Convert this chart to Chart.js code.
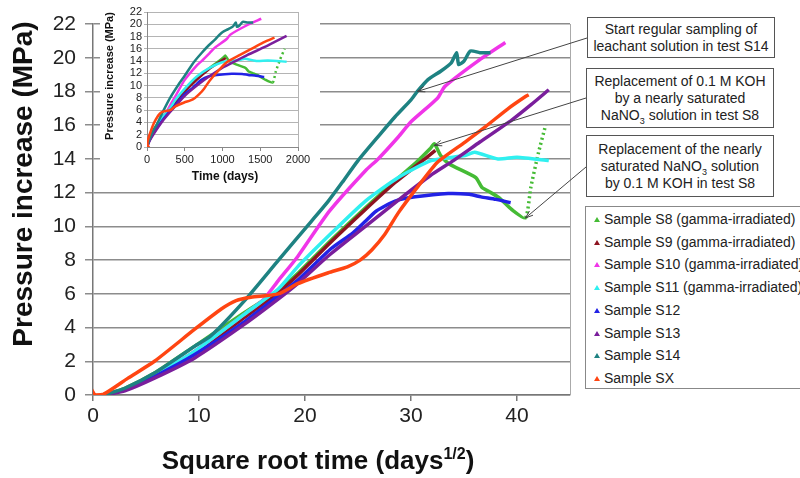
<!DOCTYPE html>
<html>
<head>
<meta charset="utf-8">
<script src="https://cdn.jsdelivr.net/npm/chart.js@4.4.1/dist/chart.umd.min.js"></script>
<style>
  body { margin: 0; width: 800px; height: 478px; overflow: hidden; background: #fff; position: relative;
         font-family: "Liberation Sans", Arial, sans-serif; color: #222; }
  #main { position: absolute; left: 0; top: 0; }
  #insetWrap { position: absolute; left: 100px; top: 0; width: 220px; height: 190px; background: #fff; }
  .note { position: absolute; border: 1.5px solid #555; background: #fff; box-sizing: border-box;
          text-align: center; font-size: 14px; line-height: 17px; display: flex; flex-direction: column;
          justify-content: center; }
  .note sub { font-size: 9px; line-height: 0; }
  #legend { position: absolute; left: 585px; top: 206px; width: 230px; height: 183px; background: #fff;
            border: 1.5px solid #888; box-sizing: border-box; font-size: 14px; }
  .item { position: absolute; left: 18px; height: 18px; line-height: 18px; white-space: nowrap; }
  .tri { position: absolute; left: 8px; width: 0; height: 0; border-left: 3px solid transparent;
         border-right: 3px solid transparent; }
</style>
</head>
<body>
<canvas id="main" width="800" height="478"></canvas>
<div id="insetWrap"><canvas id="inset" width="220" height="190"></canvas></div>

<div class="note" style="left:587px;top:17px;width:188px;height:41px">
  <div>Start regular sampling of</div><div>leachant solution in test S14</div>
</div>
<div class="note" style="left:586px;top:68px;width:188px;height:60px">
  <div>Replacement of 0.1 M KOH</div><div>by a nearly saturated</div><div>NaNO<sub>3</sub> solution in test S8</div>
</div>
<div class="note" style="left:586px;top:135px;width:188px;height:62px">
  <div>Replacement of the nearly</div><div>saturated NaNO<sub>3</sub> solution</div><div>by 0.1 M KOH in test S8</div>
</div>
<div id="legend"></div>

<script>
const FONT = '"Liberation Sans", Arial, sans-serif';

const seriesNames = [
  "Sample S8 (gamma-irradiated)",
  "Sample S9 (gamma-irradiated)",
  "Sample S10 (gamma-irradiated)",
  "Sample S11 (gamma-irradiated)",
  "Sample S12",
  "Sample S13",
  "Sample S14",
  "Sample SX",
];
const seriesColors = ["#45bb35", "#8e1420", "#f035e8", "#30f0f0", "#2222e6", "#7a1e9c", "#1e8282", "#ff4512"];

// [square root time (days^1/2), pressure increase (MPa)]
const s8 = [[1, 0], [3, 0.4], [5.8, 1.3], [9.6, 2.9], [14.3, 4.9], [17.5, 6.2], [19.3, 7.2], [22.5, 9.2],
  [25.7, 11.1], [28.5, 12.7], [30.5, 13.8], [31.8, 14.6], [32.2, 14.9], [32.8, 14.2], [33.6, 13.7],
  [36.1, 12.9], [36.7, 12.3], [37.4, 12.05], [38.3, 11.7], [39.5, 11.0], [40.8, 10.5], [41.3, 12.3],
  [42.0, 14.3], [42.7, 16.0]];
const s9 = [[1, 0], [3, 0.35], [5.8, 1.2], [9.6, 2.5], [14.3, 4.6], [17.5, 6.1], [19.3, 7.1], [22.5, 9.1],
  [25.7, 11.0], [28.5, 12.6], [30.5, 13.6], [32.3, 14.5]];
const s10 = [[1, 0], [3, 0.35], [5.8, 1.2], [9.6, 2.6], [14.3, 4.8], [16.0, 5.6], [17.5, 6.8], [19.3, 8.2],
  [22.3, 10.9], [25.7, 13.3], [26.9, 14.0], [28.8, 15.3], [30.0, 16.2], [32.5, 17.6], [33.2, 18.3],
  [36.3, 19.8], [38.9, 20.9]];
const s11 = [[1, 0], [3, 0.35], [5.8, 1.2], [9.6, 2.6], [14.3, 4.8], [17.5, 6.3], [19.3, 7.6], [22.5, 9.6],
  [25.7, 11.5], [28.8, 12.9], [31.9, 13.9], [35.1, 14.2], [36.0, 14.4], [38.2, 14.0], [40.0, 14.1], [43.0, 13.9]];
const s12 = [[1, 0], [3, 0.3], [5.8, 1.1], [9.6, 2.4], [14.3, 4.35], [17.5, 5.9], [19.3, 6.8], [22.5, 8.7],
  [24.5, 9.6], [25.7, 10.3], [26.7, 10.9], [28.5, 11.5], [30.4, 11.75], [33.5, 11.95], [35.5, 11.9],
  [36.6, 11.75], [38.0, 11.6], [39.4, 11.4]];
const s13 = [[1, 0], [3, 0.25], [5.8, 1.0], [9.6, 2.2], [14.3, 4.2], [17.5, 5.7], [19.3, 6.6], [22.3, 8.3],
  [25.7, 10.0], [28.9, 11.6], [31.8, 13.0], [34.0, 13.9], [36.5, 15.0], [39.5, 16.3], [41.3, 17.2], [43.0, 18.1]];
const s14 = [[1, 0], [3, 0.4], [5.8, 1.3], [9.6, 2.9], [11.1, 3.5], [14.3, 5.6], [17.5, 8.0], [20.6, 10.3],
  [22.2, 11.5], [23.5, 12.6], [25.0, 13.9], [27.0, 15.4], [28.5, 16.5], [30.0, 17.5], [30.6, 18.0], [31.6, 18.7],
  [32.8, 19.2], [33.8, 19.7], [34.3, 20.3], [34.5, 19.6], [35.0, 19.8], [35.6, 20.4], [36.5, 20.3], [37.5, 20.3]];
const sx = [[0, 0], [1, 0.05], [3.3, 1.0], [5.8, 2.0], [9.6, 3.9], [12.1, 5.1], [13.5, 5.6], [14.9, 5.8],
  [17.5, 6.0], [19.3, 6.6], [22.2, 7.25], [24.0, 7.6], [25.2, 8.0], [26.3, 8.6], [27.5, 9.5], [28.8, 10.8],
  [30.7, 12.4], [32.5, 13.8], [35.1, 15.0], [37.0, 15.9], [39.2, 17.0], [40.8, 17.7], [41.1, 17.8]];
const allSeries = [s8, s9, s10, s11, s12, s13, s14, sx];

const yTicks = [0, 2, 4, 6, 8, 10, 12, 14, 16, 18, 20, 22];
const xTicksMain = [0, 10, 20, 30, 40];
const xTicksInset = [0, 500, 1000, 1500, 2000];

// annotation arrow targets [sqrt days, MPa]
const noteTargets = [[30.6, 18.0], [32.2, 14.8], [40.8, 10.5]];
const noteAnchors = [[587, 38], [586, 98], [586, 167]];

function overlay(titles, arrows, frameColor) {
  return {
    id: "overlay",
    afterDraw(chart) {
      const { ctx, chartArea: a } = chart;
      ctx.save();
      ctx.strokeStyle = frameColor;
      ctx.lineWidth = 1;
      ctx.beginPath();
      ctx.moveTo(a.right + 0.5, a.top);
      ctx.lineTo(a.right + 0.5, a.bottom);
      ctx.stroke();

      ctx.strokeStyle = "#444";
      ctx.lineWidth = 1;
      arrows.forEach(([bx, by, tx, ty]) => {
        const px = chart.scales.x.getPixelForValue(tx);
        const py = chart.scales.y.getPixelForValue(ty);
        const ang = Math.atan2(py - by, px - bx);
        ctx.beginPath();
        ctx.moveTo(bx, by);
        ctx.lineTo(px, py);
        ctx.moveTo(px - 8 * Math.cos(ang - 0.35), py - 8 * Math.sin(ang - 0.35));
        ctx.lineTo(px, py);
        ctx.lineTo(px - 8 * Math.cos(ang + 0.35), py - 8 * Math.sin(ang + 0.35));
        ctx.stroke();
      });

      ctx.fillStyle = "#111";
      ctx.textAlign = "center";
      ctx.textBaseline = "middle";
      titles.forEach((t) => {
        ctx.save();
        ctx.translate(t.x, t.y);
        if (t.rot) ctx.rotate(t.rot);
        ctx.font = `bold ${t.size}px ${FONT}`;
        if (t.sup) {
          const w1 = ctx.measureText(t.text).width;
          ctx.font = `bold ${Math.round(t.size * 0.6)}px ${FONT}`;
          const w2 = ctx.measureText(t.sup).width;
          ctx.font = `bold ${t.size}px ${FONT}`;
          const w3 = ctx.measureText(t.after).width;
          const x0 = -(w1 + w2 + w3) / 2;
          ctx.textAlign = "left";
          ctx.fillText(t.text, x0, 0);
          ctx.font = `bold ${Math.round(t.size * 0.6)}px ${FONT}`;
          ctx.fillText(t.sup, x0 + w1, -t.size * 0.3);
          ctx.font = `bold ${t.size}px ${FONT}`;
          ctx.fillText(t.after, x0 + w1 + w2, 0);
        } else {
          ctx.fillText(t.text, 0, 0);
        }
        ctx.restore();
      });
      ctx.restore();
    },
  };
}

function makeDatasets(toX, width) {
  return allSeries.map((pts, i) => ({
    label: seriesNames[i],
    data: pts.map(([x, y]) => ({ x: toX(x), y })),
    borderColor: seriesColors[i],
    backgroundColor: seriesColors[i],
    borderWidth: width,
    pointRadius: i === 7 ? (c) => (c.dataIndex === 0 ? 3 : 0) : 0,
    pointStyle: "triangle",
    tension: 0.2,
    fill: false,
    order: 8 - i,
    segment: i === 0 ? { borderDash: (c) => (c.p0.parsed.x >= toX(40.8) ? [2, 3] : undefined) } : undefined,
  }));
}

new Chart(document.getElementById("main"), {
  type: "line",
  data: { datasets: makeDatasets((x) => x, 3.5) },
  options: {
    responsive: false,
    animation: false,
    layout: { padding: { top: 24, right: 230, left: 0, bottom: 0 } },
    plugins: { legend: { display: false }, tooltip: { enabled: false } },
    scales: {
      x: {
        type: "linear",
        min: 0,
        max: 45,
        afterBuildTicks: (s) => { s.ticks = xTicksMain.map((v) => ({ value: v })); },
        afterFit: (s) => { s.height = 83; },
        grid: { drawOnChartArea: false, color: "#777", lineWidth: 1.5, tickLength: 6 },
        border: { color: "#777", width: 1.5 },
        ticks: { font: { size: 21, family: FONT }, color: "#222", padding: 3, maxRotation: 0 },
      },
      y: {
        min: 0,
        max: 22,
        afterBuildTicks: (s) => { s.ticks = yTicks.map((v) => ({ value: v })); },
        afterFit: (s) => { s.width = 93; },
        grid: { color: "#8c8c8c", lineWidth: 1.5, tickLength: 8 },
        border: { color: "#777", width: 1.5 },
        ticks: { font: { size: 21, family: FONT }, color: "#222", padding: 9, autoSkip: false },
      },
    },
  },
  plugins: [overlay(
    [
      { text: "Pressure increase (MPa)", x: 24, y: 184, rot: -Math.PI / 2, size: 28 },
      { text: "Square root time (days", sup: "1/2", after: ")", x: 318, y: 462, size: 26 },
    ],
    noteTargets.map((t, i) => [noteAnchors[i][0], noteAnchors[i][1], t[0], t[1]]),
    "#aaa"
  )],
});

new Chart(document.getElementById("inset"), {
  type: "line",
  data: { datasets: makeDatasets((x) => x * x, 2.5) },
  options: {
    responsive: false,
    animation: false,
    layout: { padding: { top: 12, right: 22, left: 0, bottom: 0 } },
    plugins: { legend: { display: false }, tooltip: { enabled: false } },
    scales: {
      x: {
        type: "linear",
        min: 0,
        max: 2000,
        afterBuildTicks: (s) => { s.ticks = xTicksInset.map((v) => ({ value: v })); },
        afterFit: (s) => { s.height = 43; },
        grid: { drawOnChartArea: false, color: "#888", tickLength: 4 },
        border: { color: "#888", width: 1 },
        ticks: { font: { size: 11, family: FONT }, color: "#222", padding: 2, maxRotation: 0,
                 autoSkip: false, callback: (v) => String(v) },
      },
      y: {
        min: 0,
        max: 22,
        afterBuildTicks: (s) => { s.ticks = yTicks.map((v) => ({ value: v })); },
        afterFit: (s) => { s.width = 47; },
        grid: { color: "#b4b4b4", lineWidth: 1, tickLength: 3 },
        border: { color: "#888", width: 1 },
        ticks: { font: { size: 11, family: FONT }, color: "#222", padding: 2, autoSkip: false },
      },
    },
  },
  plugins: [overlay(
    [
      { text: "Pressure increase (MPa)", x: 10, y: 76, rot: -Math.PI / 2, size: 11 },
      { text: "Time (days)", x: 125, y: 177, size: 12 },
    ],
    [],
    "#b4b4b4"
  )],
});

// legend
const legend = document.getElementById("legend");
seriesNames.forEach((name, i) => {
  const top = 3 + i * 22.7;
  const tri = document.createElement("div");
  tri.className = "tri";
  tri.style.top = top + 7 + "px";
  tri.style.borderBottom = `5px solid ${seriesColors[i]}`;
  legend.appendChild(tri);
  const item = document.createElement("div");
  item.className = "item";
  item.style.top = top + "px";
  item.textContent = name;
  legend.appendChild(item);
});
</script>
</body>
</html>
